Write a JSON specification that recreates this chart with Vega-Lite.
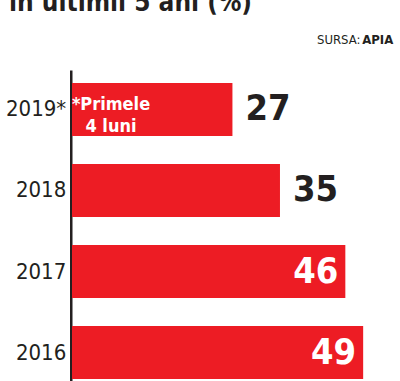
{
  "$schema": "https://vega.github.io/schema/vega-lite/v6.json",
  "autosize": {"type": "none"},
  "padding": {"left": 72, "top": 70, "right": 0, "bottom": 0},
  "width": 328,
  "height": 322,
  "background": "white",
  "title": {
    "text": "în ultimii 5 ani (%)",
    "anchor": "start",
    "frame": "group",
    "baseline": "alphabetic",
    "font": "'DejaVu Sans Condensed', Roboto, sans-serif",
    "fontSize": 26,
    "fontWeight": "bold",
    "color": "#231F20",
    "dx": -63,
    "dy": 8
  },
  "config": {
    "view": {"stroke": null},
    "font": "'DejaVu Sans Condensed', Roboto, sans-serif"
  },
  "data": {
    "values": [
      {"year": "2019*", "value": 27, "note": "*Primele\n4 luni"},
      {"year": "2018", "value": 35, "note": ""},
      {"year": "2017", "value": 46, "note": ""},
      {"year": "2016", "value": 49, "note": ""}
    ]
  },
  "encoding": {
    "y": {
      "field": "year",
      "type": "nominal",
      "sort": null,
      "scale": {"paddingInner": 0.346, "paddingOuter": 0.16},
      "axis": {
        "title": "APIA",
        "titleAngle": 0,
        "titleX": 322,
        "titleY": -27,
        "titleAlign": "right",
        "titleBaseline": "alphabetic",
        "titleFont": "'DejaVu Sans Condensed', Roboto, sans-serif",
        "titleFontSize": 13,
        "titleFontWeight": "bold",
        "titleColor": "#231F20",
        "domainColor": "#231F20",
        "domainWidth": 2.5,
        "offset": 1.25,
        "ticks": false,
        "labelFont": "'DejaVu Sans Condensed', Roboto, sans-serif",
        "labelFontSize": 22,
        "labelColor": "#231F20",
        "labelPadding": 5
      }
    },
    "x": {
      "field": "value",
      "type": "quantitative",
      "scale": {"domain": [0, 55.2], "nice": false},
      "axis": {
        "orient": "top",
        "title": "SURSA:",
        "titleX": 288,
        "titleY": -27,
        "titleAlign": "right",
        "titleBaseline": "alphabetic",
        "titleFont": "'DejaVu Sans Condensed', Roboto, sans-serif",
        "titleFontSize": 13,
        "titleFontWeight": "normal",
        "titleColor": "#231F20",
        "domain": false,
        "ticks": false,
        "labels": false,
        "grid": false
      }
    }
  },
  "layer": [
    {
      "mark": {"type": "bar", "color": "#ED1C24"}
    },
    {
      "transform": [{"filter": "datum.value < 40"}],
      "mark": {
        "type": "text",
        "align": "left",
        "baseline": "middle",
        "dx": 13,
        "dy": 0,
        "font": "'DejaVu Sans Condensed', Roboto, sans-serif",
        "fontSize": 36,
        "fontWeight": "bold",
        "color": "#231F20"
      },
      "encoding": {"text": {"field": "value", "type": "quantitative"}}
    },
    {
      "transform": [{"filter": "datum.value >= 40"}],
      "mark": {
        "type": "text",
        "align": "right",
        "baseline": "middle",
        "dx": -7,
        "dy": 0,
        "font": "'DejaVu Sans Condensed', Roboto, sans-serif",
        "fontSize": 36,
        "fontWeight": "bold",
        "color": "white"
      },
      "encoding": {"text": {"field": "value", "type": "quantitative"}}
    },
    {
      "transform": [{"filter": "datum.note != ''"}],
      "mark": {
        "type": "text",
        "align": "center",
        "baseline": "middle",
        "lineBreak": "\n",
        "lineHeight": 22,
        "dx": 39,
        "dy": -4,
        "font": "'DejaVu Sans Condensed', Roboto, sans-serif",
        "fontSize": 18,
        "fontWeight": "bold",
        "color": "white"
      },
      "encoding": {
        "x": {"datum": 0},
        "text": {"field": "note"}
      }
    }
  ]
}
